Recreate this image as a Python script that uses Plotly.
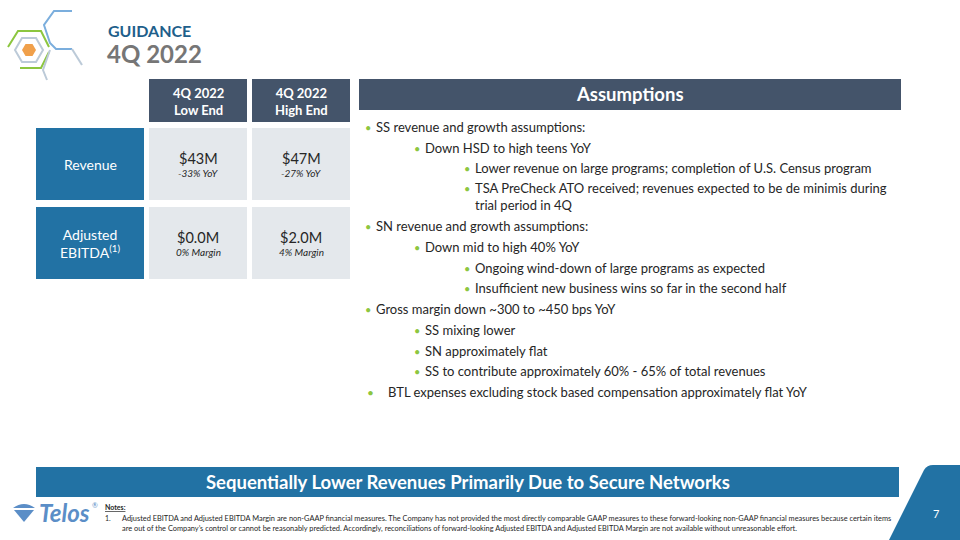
import plotly.graph_objects as go

# ---------------- data ----------------
title_top = "GUIDANCE"
title_main = "4Q 2022"
col_headers = ["4Q 2022<br>Low End", "4Q 2022<br>High End"]
row_labels = ["Revenue", "Adjusted<br>EBITDA<sup>(1)</sup>"]
low_values = [43, 0.0]
high_values = [47, 2.0]
value_formats = ["${:.0f}M", "${:.1f}M"]
low_sub = ["-33% YoY", "0% Margin"]
high_sub = ["-27% YoY", "4% Margin"]
assump_title = "Assumptions"
assump_lines = [
    "SS revenue and growth assumptions:",
    "Down HSD to high teens YoY",
    "Lower revenue on large programs; completion of U.S. Census program",
    "TSA PreCheck ATO received; revenues expected to be de minimis during",
    "trial period in 4Q",
    "SN revenue and growth assumptions:",
    "Down mid to high 40% YoY",
    "Ongoing wind-down of large programs as expected",
    "Insufficient new business wins so far in the second half",
    "Gross margin down ~300 to ~450 bps YoY",
    "SS mixing lower",
    "SN approximately flat",
    "SS to contribute approximately 60% - 65% of total revenues",
    "BTL expenses excluding stock based compensation approximately flat YoY",
]
assump_levels = ["1", "2", "3", "3", "3c", "1", "2", "3", "3", "1", "2", "2", "2", "1w"]
banner_text = "Sequentially Lower Revenues Primarily Due to Secure Networks"
notes_title = "Notes:"
notes_lines = [
    "Adjusted EBITDA and Adjusted EBITDA Margin are non-GAAP financial measures. The Company has not provided the most directly comparable GAAP measures to these forward-looking non-GAAP financial measures because certain items",
    "are out of the Company\u2019s control or cannot be reasonably predicted. Accordingly, reconciliations of forward-looking Adjusted EBITDA and Adjusted EBITDA Margin are not available without unreasonable effort.",
]
page_number = "7"

# ---------------- styles ----------------
FONT = "Lato"
DARK = "#44546A"
BLUE = "#2272A4"
LIGHT = "#E4E8EC"
GREEN = "#8DC63F"
TXT = "#262626"

fig = go.Figure()
shapes = []
ann = []

def rect(x0, y0, x1, y1, color, line=None):
    shapes.append(dict(type="rect", xref="x", yref="y", x0=x0, y0=y0, x1=x1, y1=y1,
                       fillcolor=color, line=dict(width=0) if line is None else line, layer="below"))

def text(x, y, s, size, color=TXT, bold=False, italic=False, xanchor="center", family=FONT):
    if bold:
        s = "<b>" + s + "</b>"
    if italic:
        s = "<i>" + s + "</i>"
    ann.append(dict(x=x, y=y, xref="x", yref="y", text=s, showarrow=False,
                    font=dict(family=family, size=size, color=color),
                    xanchor=xanchor, yanchor="middle", align="center" if xanchor == "center" else "left"))

# ---- logo (hexagons) ----
def hexpath(cx, cy, r, close=True):
    import math
    pts = [(cx + r * math.cos(math.radians(a)), cy + r * math.sin(math.radians(a))) for a in range(0, 360, 60)]
    d = "M " + " L ".join(f"{x:.1f},{y:.1f}" for x, y in pts)
    return d + (" Z" if close else "")

shapes.append(dict(type="path", xref="x", yref="y", path=hexpath(29, 50, 7), fillcolor="#F0A04B", line=dict(width=0)))
shapes.append(dict(type="path", xref="x", yref="y", path=hexpath(29, 50, 14), line=dict(color="#BCCAD8", width=2)))
shapes.append(dict(type="path", xref="x", yref="y",
                   path="M 8,47 L 18,31 L 41,31 L 49,47", line=dict(color="#8CC63F", width=2)))
shapes.append(dict(type="path", xref="x", yref="y",
                   path="M 49,52 L 41,68 L 20,68", line=dict(color="#8CC63F", width=2)))
shapes.append(dict(type="path", xref="x", yref="y",
                   path="M 72,11 L 54,11 L 44,25 L 50,43 L 56,49 L 72,49", line=dict(color="#7BAEDD", width=2)))
shapes.append(dict(type="path", xref="x", yref="y",
                   path="M 72,49 L 82,65", line=dict(color="#BCCAD8", width=2)))
shapes.append(dict(type="path", xref="x", yref="y",
                   path="M 50,50 L 43,70 L 47,80", line=dict(color="#BCCAD8", width=2)))

text(106, 30, title_top, 16, color="#1F5F8B", bold=True, xanchor="left")
text(105, 53, title_main, 24, color="#767676", bold=True, xanchor="left")

# ---- table ----
col_x = [(149, 247), (252, 350)]
row_y = [(128, 200), (207, 279)]
for (x0, x1), h in zip(col_x, col_headers):
    rect(x0, 79, x1, 122, DARK)
    text((x0 + x1) / 2, 101, h, 13, color="white", bold=True)
for i, ((y0, y1), lab) in enumerate(zip(row_y, row_labels)):
    rect(36, y0, 144, y1, BLUE)
    text(90, (y0 + y1) / 2, lab, 14, color="white")
    cy = (y0 + y1) / 2
    for (x0, x1), vals, subs in zip(col_x, [low_values, high_values], [low_sub, high_sub]):
        rect(x0, y0, x1, y1, LIGHT)
        text((x0 + x1) / 2, cy - 6, value_formats[i].format(vals[i]), 14.5)
        text((x0 + x1) / 2, cy + 9, subs[i], 10, italic=True)

# ---- assumptions ----
rect(359, 79, 901, 110, DARK)
text(630, 94, assump_title, 18.5, color="white", bold=True)
bullet_x = {"1": 368, "2": 417, "3": 467, "3c": None, "1w": 370}
text_x = {"1": 374, "2": 423, "3": 473, "3c": 473, "1w": 386}
line_y = [127, 148, 168, 188, 205, 226, 247, 268, 288, 309, 330, 351, 371, 392]
for s, lvl, yy in zip(assump_lines, assump_levels, line_y):
    if bullet_x[lvl] is not None:
        text(bullet_x[lvl], yy, "\u2022", 11 if lvl != "1w" else 12, color=GREEN)
    text(text_x[lvl], yy, s, 13, xanchor="left")

# ---- banner ----
rect(36, 467, 899, 497, BLUE)
text(468, 482, banner_text, 18.5, color="white", bold=True)

# ---- page corner ----
shapes.append(dict(type="path", xref="x", yref="y",
                   path="M 889,540 L 924,470 Q 927,465 933,465 L 960,465 L 960,540 Z",
                   fillcolor=BLUE, line=dict(width=0)))
text(936, 513, page_number, 11, color="white")

# ---- Telos logo ----
shapes.append(dict(type="path", xref="x", yref="y",
                   path="M 13,508 Q 24,500 35,508 Z", fillcolor="#5B8EC7", line=dict(width=0)))
shapes.append(dict(type="path", xref="x", yref="y",
                   path="M 14,510 L 34,510 L 24,522 Z", fillcolor="#5B8EC7", line=dict(width=0)))
text(37, 512, "Telos", 24, color="#5B8EC7", bold=True, italic=True, xanchor="left")
text(90, 505, "\u00ae", 7, color="#5B8EC7", xanchor="left")

# ---- notes ----
text(103, 507, "<u>" + notes_title + "</u>", 7, bold=True, xanchor="left")
text(103, 518, "1.", 7, xanchor="left")
text(120, 518, notes_lines[0], 7.4, xanchor="left")
text(120, 528, notes_lines[1], 7.4, xanchor="left")

fig.update_layout(
    width=960, height=540,
    margin=dict(l=0, r=0, t=0, b=0),
    paper_bgcolor="white", plot_bgcolor="white",
    xaxis=dict(range=[0, 960], visible=False, fixedrange=True),
    yaxis=dict(range=[540, 0], visible=False, fixedrange=True),
    shapes=shapes, annotations=ann, showlegend=False,
)
fig.write_html("out.html", config={"displayModeBar": False},
               post_script="document.body.style.margin='0px';document.body.style.overflow='hidden';")
